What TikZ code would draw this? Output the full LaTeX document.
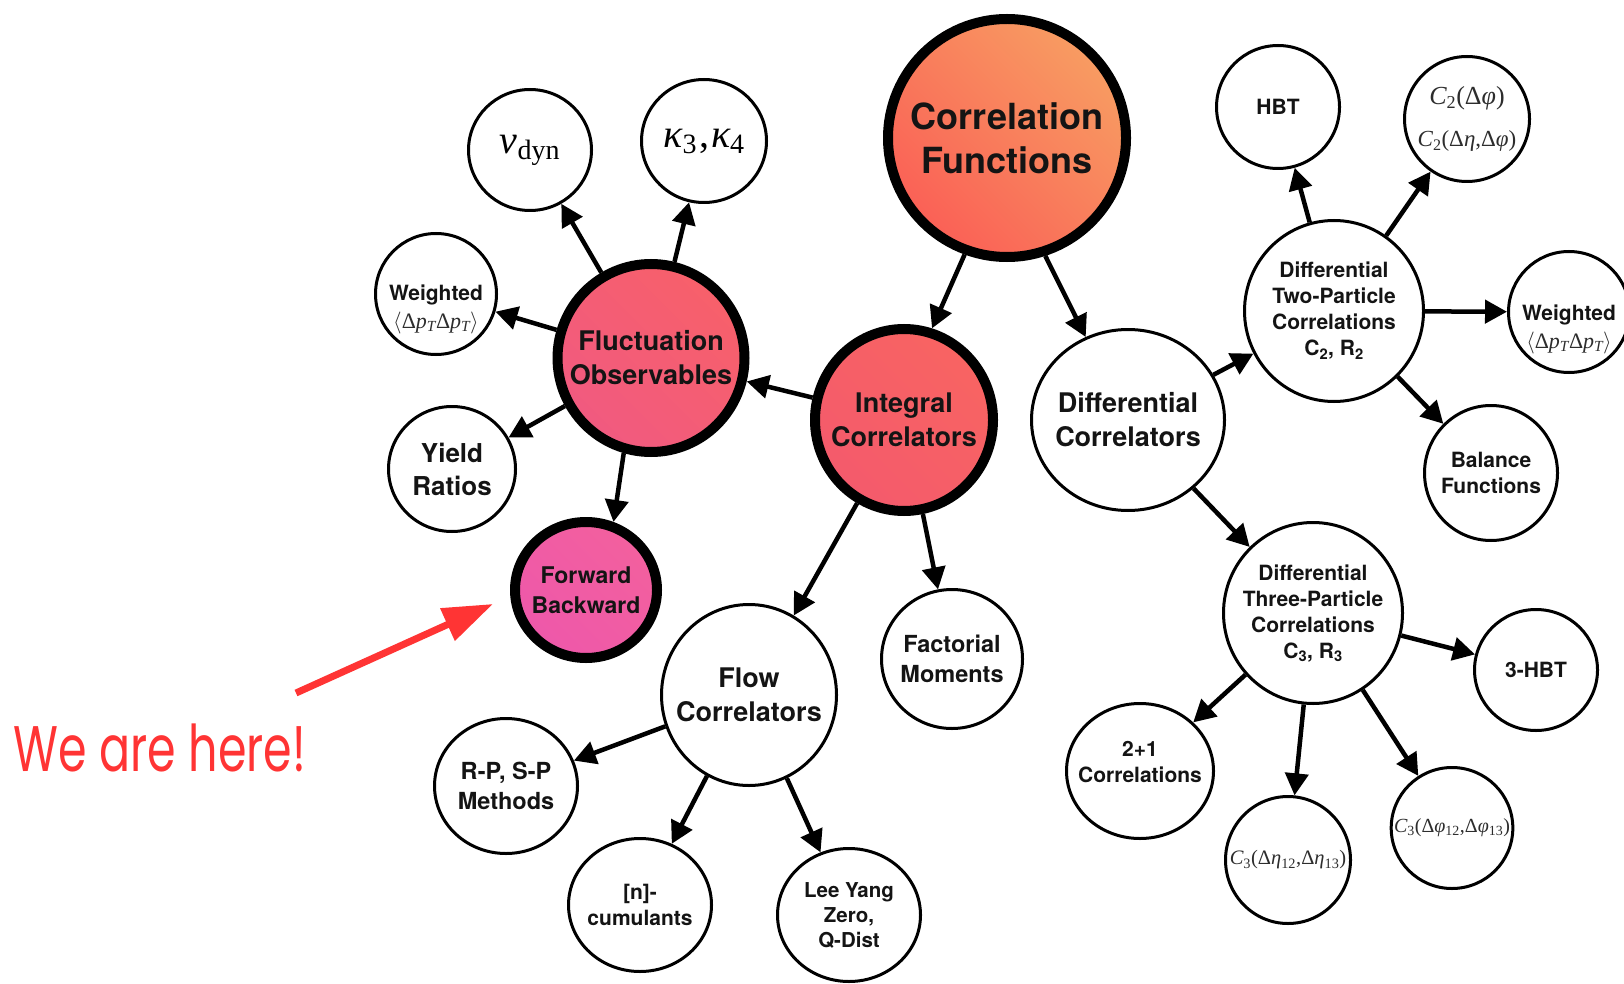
\RequirePackage{fix-cm}
\documentclass[tikz,border=0pt]{standalone}
\usepackage[no-math]{fontspec}
\setmainfont{TeX Gyre Heros}
\newfontfamily\handfont{Poppins}
\newfontfamily\tms{Liberation Serif}
\newcommand\ti[1]{{\itshape #1}}
\usepackage{graphicx}
\usetikzlibrary{arrows.meta,shapes.geometric}
\definecolor{cfA}{RGB}{248,156,98}
\definecolor{cfB}{RGB}{250,96,86}
\definecolor{icA}{RGB}{248,100,98}
\definecolor{icB}{RGB}{244,90,108}
\definecolor{foA}{RGB}{247,96,106}
\definecolor{foB}{RGB}{241,90,128}
\definecolor{fbA}{RGB}{243,96,158}
\definecolor{fbB}{RGB}{238,88,170}
\definecolor{txt}{RGB}{20,20,20}
\definecolor{mathgray}{RGB}{45,45,45}
\definecolor{hered}{RGB}{255,52,52}
\tikzset{
  bub/.style 2 args={ellipse, draw=black, line width=3pt, fill=white, inner sep=-15pt,
    minimum width={2*#1pt-3pt}, minimum height={2*#2pt-3pt}, align=center, text=txt,
    font=\bfseries\fontsize{21}{26}\selectfont},
  hub/.style 2 args={ellipse, draw=black, line width=10pt, inner sep=-15pt,
    minimum width={2*#1pt-10pt}, minimum height={2*#2pt-10pt}, align=center, text=txt,
    font=\bfseries\fontsize{27}{34}\selectfont},
  bigtxt/.style={font=\bfseries\fontsize{27}{34}\selectfont},
  yrtxt/.style={font=\bfseries\fontsize{26}{33}\selectfont},
  midtxt/.style={font=\bfseries\fontsize{23.5}{30}\selectfont},
  mathtxt/.style={text=mathgray, font=\tms\mdseries\fontsize{#1}{26}\selectfont},
  arr/.style={draw=black, line width=4.5pt, -{Triangle[length=22pt,width=23pt]}},
  redarr/.style={draw=hered, line width=7pt, -{Triangle[length=50pt,width=34pt]}},
}
\begin{document}
\begin{tikzpicture}[x=1pt,y=-1pt]
\useasboundingbox (0,0) rectangle (1624,984);
% hubs
\node[hub={124}{124}, top color=cfA, bottom color=cfB, shading angle=-45,
  font=\bfseries\fontsize{36}{44}\selectfont] (cf) at (1007,138) {Correlation\\Functions};
\node[hub={94}{96}, top color=icA, bottom color=icB, shading angle=-45] (ic) at (904,420) {Integral\\Correlators};
\node[hub={98}{99}, top color=foA, bottom color=foB, shading angle=-45] (fo) at (651,358) {Fluctuation\\Observables};
\node[hub={76}{73}, top color=fbA, bottom color=fbB, shading angle=-45,
  font=\bfseries\fontsize{23}{30}\selectfont] (fb) at (586,590) {Forward\\Backward};
% right side
\node[bub={98}{92}, bigtxt] (dc) at (1128,420) {Differential\\Correlators};
\node[bub={91}{92}] (d2) at (1334,311) {Differential\\Two-Particle\\Correlations\\C\textsubscript{2}, R\textsubscript{2}};
\node[bub={91}{92}] (d3) at (1313,613) {Differential\\Three-Particle\\Correlations\\C\textsubscript{3}, R\textsubscript{3}};
\node[bub={63}{63}] (hbt) at (1278,107) {HBT};
\node[bub={64}{64}, mathtxt=23] (c2) at (1467,119)
  {{\fontsize{26}{28}\selectfont\ti{C}\textsubscript{2}(Δ\ti{φ})}\\[16pt]\ti{C}\textsubscript{2}(Δ\ti{η},Δ\ti{φ})};
\node[bub={62}{62}] (wr) at (1569,312) {\mbox{}\\[24pt]Weighted\\[2pt]{\color{mathgray}\tms\mdseries\fontsize{22}{26}\selectfont$\langle$Δ\ti{p}\textsubscript{\ti{T}}Δ\ti{p}\textsubscript{\ti{T}}$\rangle$}};
\node[bub={68}{69}] (bal) at (1491,473) {Balance\\Functions};
\node[bub={63}{62}] (hbt3) at (1536,670) {3-HBT};
\node[bub={61}{62}, mathtxt=20] (c3p) at (1452,828)
  {\ti{C}\textsubscript{3}(Δ\ti{φ}\textsubscript{12},Δ\ti{φ}\textsubscript{13})};
\node[bub={64}{65}, mathtxt=20.5] (c3e) at (1288,860)
  {\ti{C}\textsubscript{3}(Δ\ti{η}\textsubscript{12},Δ\ti{η}\textsubscript{13})};
\node[bub={75}{69}] (tpo) at (1140,771) {2+1\\Correlations\\[-8pt]\mbox{}};
% bottom / left
\node[bub={72}{71}, midtxt] (fac) at (952,659) {Factorial\\Moments};
\node[bub={89}{92}, bigtxt] (flow) at (749,695) {Flow\\Correlators};
\node[bub={73}{69}, midtxt] (rp) at (506,786) {R-P, S-P\\Methods};
\node[bub={73}{68}] (cum) at (640,905) {[n]-\\cumulants};
\node[bub={73}{68}, font=\bfseries\fontsize{20.5}{25}\selectfont] (ly) at (849,915) {Lee Yang\\Zero,\\Q-Dist};
\node[bub={65}{64}, yrtxt] (yr) at (452,469) {Yield\\Ratios};
\node[bub={62}{62}] (wl) at (436,294) {\mbox{}\\[20pt]Weighted\\[2pt]{\color{mathgray}\tms\mdseries\fontsize{22}{26}\selectfont$\langle$Δ\ti{p}\textsubscript{\ti{T}}Δ\ti{p}\textsubscript{\ti{T}}$\rangle$}};
\node[bub={63}{62}, text=black, font=\tms\mdseries\fontsize{40}{44}\selectfont] (nu) at (530,150) {\ti{ν}\textsubscript{dyn}};
\node[bub={64}{63}, text=black, font=\tms\mdseries\fontsize{40}{44}\selectfont] (ka) at (704,141) {\ti{κ}\textsubscript{3}\kern2pt,\kern2pt\ti{κ}\textsubscript{4}};
% connectors
\draw[arr] (cf.-110) -- (ic.73);
\draw[arr] (cf.-72) -- (dc.117);
\draw[arr] (ic) -- (fo);
\draw[arr] (ic) -- (flow);
\draw[arr] (ic) -- (fac);
\draw[arr] (fo) -- (nu);
\draw[arr] (fo) -- (ka);
\draw[arr] (fo) -- (wl);
\draw[arr] (fo) -- (yr);
\draw[arr] (fo.-106) -- (fb.68);
\draw[arr] (dc) -- (d2);
\draw[arr] (dc) -- (d3);
\draw[arr] (d2) -- (hbt);
\draw[arr] (d2) -- (c2);
\draw[arr] (d2) -- (wr);
\draw[arr] (d2) -- (bal);
\draw[arr] (d3) -- (hbt3);
\draw[arr] (d3) -- (c3p);
\draw[arr] (d3) -- (c3e);
\draw[arr] (d3) -- (tpo);
\draw[arr] (flow) -- (rp);
\draw[arr] (flow) -- (cum);
\draw[arr] (flow) -- (ly);
% annotation
\node[text=hered, inner sep=0pt, font=\handfont\fontsize{46}{50}\selectfont] (here) at (160,748)
  {\scalebox{1}[1.4]{We are here!}};
\coordinate (ra) at (296,693);
\coordinate (rb) at (493,604);
\draw[redarr] (ra) -- (rb);
\end{tikzpicture}
\end{document}
